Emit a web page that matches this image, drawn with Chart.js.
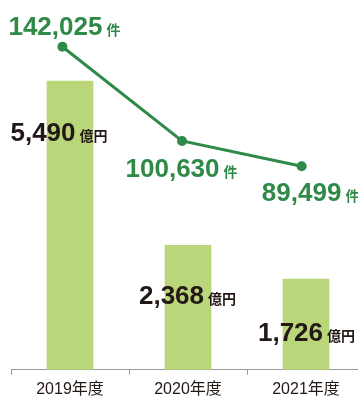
<!DOCTYPE html>
<html>
<head>
<meta charset="utf-8">
<script src="https://cdn.jsdelivr.net/npm/chart.js@4"></script>
<style>
html,body{margin:0;padding:0;overflow:hidden;background:#fff;width:358px;height:401px;}
canvas{display:block;}
</style>
</head>
<body>
<canvas id="c" width="370" height="404"></canvas>
<script>
const categories = ['2019年度', '2020年度', '2021年度'];
const amountValues = [5490, 2368, 1726];      // 億円
const caseValues = [142025, 100630, 89499];   // 件
const amountUnit = '億円';
const caseUnit = '件';

const GREEN = '#2f8a47';
const BAR = '#b9d77a';
const DARK = '#231815';
const NUMFONT = '"Liberation Sans", Arial, Helvetica, sans-serif';
const CJKFONT = '"Noto Sans CJK JP", sans-serif';

const labelPlugin = {
  id: 'valueLabels',
  afterDatasetsDraw(chart, args, opts) {
    const ctx = chart.ctx;
    ctx.save();
    ctx.textBaseline = 'alphabetic';
    ctx.textAlign = 'left';
    const drawLabel = (num, unit, cx, baseline, color, numSize, unitSize) => {
      ctx.fillStyle = color;
      ctx.font = 'bold ' + numSize + 'px ' + NUMFONT;
      const w1 = ctx.measureText(num).width;
      ctx.font = 'bold ' + unitSize + 'px ' + CJKFONT;
      const w2 = ctx.measureText(unit).width;
      const gap = 4;
      const start = cx - (w1 + gap + w2) / 2;
      ctx.font = 'bold ' + numSize + 'px ' + NUMFONT;
      ctx.fillText(num, start, baseline);
      ctx.font = 'bold ' + unitSize + 'px ' + CJKFONT;
      ctx.fillText(unit, start + w1 + gap, baseline);
    };
    const barMeta = chart.getDatasetMeta(0);
    barMeta.data.forEach((el, i) => {
      const o = opts.barOffsets[i];
      drawLabel(amountValues[i].toLocaleString('en-US'), amountUnit, el.x + o[0], el.y + o[1], DARK, 26, 14);
    });
    const lineMeta = chart.getDatasetMeta(1);
    lineMeta.data.forEach((el, i) => {
      const o = opts.lineOffsets[i];
      drawLabel(caseValues[i].toLocaleString('en-US'), caseUnit, el.x + o[0], el.y + o[1], GREEN, 26, 14);
    });
    ctx.restore();
  }
};

new Chart(document.getElementById('c'), {
  type: 'bar',
  data: {
    labels: categories,
    datasets: [
      {
        type: 'bar',
        data: amountValues,
        backgroundColor: BAR,
        barThickness: 46,
        grouped: false,
        xAxisID: 'x',
        yAxisID: 'y',
        order: 2
      },
      {
        type: 'line',
        data: caseValues.map((v, i) => ({ x: i, y: v })),
        borderColor: GREEN,
        borderWidth: 3,
        pointRadius: 5,
        pointBackgroundColor: GREEN,
        pointBorderWidth: 0,
        tension: 0,
        xAxisID: 'x2',
        yAxisID: 'y2',
        order: 1
      }
    ]
  },
  options: {
    responsive: false,
    animation: false,
    devicePixelRatio: 1,
    layout: { padding: { left: 11, right: 0, top: 0, bottom: 0 } },
    plugins: {
      legend: { display: false },
      tooltip: { enabled: false },
      valueLabels: {
        barOffsets: [[-11, 60], [-0.5, 59], [0.5, 62]],
        lineOffsets: [[2, -12], [-0.5, 36], [9, 34.5]]
      }
    },
    scales: {
      x: {
        type: 'category',
        offset: true,
        grid: { display: true, drawOnChartArea: false, drawTicks: true, tickLength: 5, offset: true, color: '#9a9a9a' },
        border: { display: true, color: '#9a9a9a', width: 1 },
        ticks: { color: DARK, padding: 5, font: { family: NUMFONT + ', ' + CJKFONT, size: 16 } }
      },
      x2: { type: 'linear', display: false, offset: false, min: -0.43, max: 2.53 },
      y: { display: false, min: 0, max: 6934 },
      y2: { display: false, min: 0, max: 160400 }
    }
  },
  plugins: [labelPlugin]
});
</script>
</body>
</html>
